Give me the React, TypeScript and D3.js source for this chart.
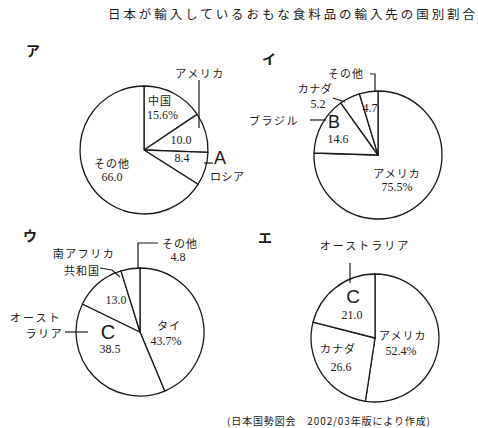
import React from 'react';
import * as d3 from 'd3';

// chart values
const titleText = '日本が輸入しているおもな食料品の輸入先の国別割合';
const sourceText = '(日本国勢図会　2002/03年版により作成)';
const panelLabels = ['ア', 'イ', 'ウ', 'エ'];

const namesA = ['中国', 'アメリカ', 'ロシア', 'その他'];
const valuesA = [15.6, 10.0, 8.4, 66.0];
const namesB = ['アメリカ', 'ブラジル', 'カナダ', 'その他'];
const valuesB = [75.5, 14.6, 5.2, 4.7];
const namesC = ['タイ', 'オーストラリア', '南アフリカ共和国', 'その他'];
const valuesC = [43.7, 38.5, 13.0, 4.8];
const namesD = ['アメリカ', 'カナダ', 'オーストラリア'];
const valuesD = [52.4, 26.6, 21.0];
const hiddenLetters = ['A', 'B', 'C'];

const W = 478;
const H = 428;
const R = 64;

const JP = '"Noto Sans CJK JP", sans-serif';
const NUM = '"Liberation Serif", serif';
const LAT = '"Liberation Sans", sans-serif';
const INK = '#1a1a1a';

const fmt = (v: number, i: number) => (i === 0 ? `${v.toFixed(1)}%` : v.toFixed(1));

type Lbl = { t: string; x: number; y: number; f?: string; s?: number; a?: string; ls?: number; w?: number };
type Seg = number[][];

const pie = d3.pie<number>().sort(null).value(d => d);
const arc = d3.arc<d3.PieArcDatum<number>>().innerRadius(0).outerRadius(R);

function Pie({ cx, cy, values, labels, lines }: { cx: number; cy: number; values: number[]; labels: Lbl[]; lines: Seg[] }) {
  const arcs = pie(values);
  const line = d3.line();
  return (
    <g transform={`translate(${cx},${cy})`}>
      {arcs.map((d, i) => (
        <path key={i} d={arc(d) || ''} fill="#fff" stroke={INK} strokeWidth={1.3} strokeLinejoin="round" />
      ))}
      {lines.map((p, i) => (
        <path key={i} d={line(p as [number, number][]) || ''} fill="none" stroke={INK} strokeWidth={1.2} />
      ))}
      {labels.map((l, i) => (
        <text
          key={i}
          x={l.x}
          y={l.y}
          fontFamily={l.f || JP}
          fontSize={l.s || 11}
          fontWeight={l.w || 400}
          textAnchor={l.a || 'middle'}
          dominantBaseline="central"
          letterSpacing={l.ls ?? (l.f ? 0 : 1.5)}
          fill={INK}
        >
          {l.t}
        </text>
      ))}
    </g>
  );
}

export default function App() {
  const n = (t: string, x: number, y: number, a = 'middle'): Lbl => ({ t, x, y, f: NUM, s: 12, a });
  const big = (t: string, x: number, y: number, s = 20): Lbl => ({ t, x, y, f: LAT, s });

  const labelsA: Lbl[] = [
    { t: namesA[0], x: 4, y: -50, a: 'start', ls: 1 },
    n(fmt(valuesA[0], 0), 3, -35, 'start'),
    n(fmt(valuesA[1], 1), 37, -10),
    n(fmt(valuesA[2], 2), 38, 8),
    { t: namesA[3], x: -32, y: 13, ls: 1 },
    n(fmt(valuesA[3], 3), -32, 27),
    { t: namesA[1], x: 56, y: -77 },
    big(hiddenLetters[0], 76, 8, 18),
    { t: namesA[2], x: 66, y: 26, a: 'start', ls: 0.5 },
  ];
  const linesA: Seg[] = [
    [[55, -70], [55, -22]],
    [[60, 13], [69, 13]],
  ];

  const labelsB: Lbl[] = [
    { t: namesB[3], x: -32, y: -82, ls: 1 },
    n(fmt(valuesB[3], 3), -8, -47),
    { t: namesB[2], x: -63, y: -67, ls: 0.5 },
    n(fmt(valuesB[2], 2), -60, -51),
    { t: namesB[1], x: -104, y: -35 },
    big(hiddenLetters[1], -44, -33, 18),
    n(fmt(valuesB[1], 1), -40, -16),
    { t: namesB[0], x: 19, y: 18, ls: 1 },
    n(fmt(valuesB[0], 0), 19, 32),
  ];
  const linesB: Seg[] = [
    [[-8, -81], [-3, -81], [-3, -63]],
    [[-45, -57], [-33, -53]],
    [[-68, -35], [-52, -35]],
  ];

  const labelsC: Lbl[] = [
    { t: namesC[3], x: 40, y: -89, ls: 1 },
    n(fmt(valuesC[3], 3), 38, -75),
    { t: namesC[2].slice(0, 5), x: -56, y: -79, ls: 1.5 },
    { t: namesC[2].slice(5), x: -58, y: -62, ls: 1 },
    n(fmt(valuesC[2], 2), -24, -32),
    { t: namesC[1].slice(0, 4), x: -130, y: -15, a: 'start', ls: 2 },
    { t: namesC[1].slice(4), x: -77, y: 1, a: 'end', ls: 1.5 },
    big(hiddenLetters[2], -32, 0, 20),
    n(fmt(valuesC[1], 1), -30, 17),
    { t: namesC[0], x: 29, y: -7, ls: 1 },
    n(fmt(valuesC[0], 0), 26, 9),
  ];
  const linesC: Seg[] = [
    [[18, -89], [-2, -89], [-2, -64]],
    [[-40, -64], [-28, -62], [-20, -55]],
    [[-75, 0], [-52, 0]],
  ];

  const labelsD: Lbl[] = [
    { t: namesD[2], x: -10, y: -93, ls: 2 },
    big(hiddenLetters[2], -22, -42, 19),
    n(fmt(valuesD[2], 2), -23, -23),
    { t: namesD[1], x: -37, y: 10, ls: 1 },
    n(fmt(valuesD[1], 1), -34, 29),
    { t: namesD[0], x: 4, y: -3, a: 'start', ls: 1 },
    n(fmt(valuesD[0], 0), 26, 13),
  ];
  const linesD: Seg[] = [[[-25, -75], [-25, -55]]];

  const panelPos = [
    [33, 50],
    [269, 58],
    [30, 235],
    [265, 237],
  ];

  return (
    <svg width={W} height={H} style={{ position: 'absolute', left: 0, top: 0, background: '#fff' }}>
      <rect width={W} height={H} fill="#fff" />
      <text x={108} y={13} fontFamily={JP} fontSize={12.5} fill={INK} dominantBaseline="central" textLength={367} lengthAdjust="spacing">
        {titleText}
      </text>
      {panelLabels.map((t, i) => (
        <text key={t} x={panelPos[i][0]} y={panelPos[i][1]} fontFamily={JP} fontSize={14} fontWeight={700} textAnchor="middle" dominantBaseline="central" fill={INK}>
          {t}
        </text>
      ))}
      <Pie cx={144} cy={150} values={valuesA} labels={labelsA} lines={linesA} />
      <Pie cx={378} cy={155} values={valuesB} labels={labelsB} lines={linesB} />
      <Pie cx={140} cy={332} values={valuesC} labels={labelsC} lines={linesC} />
      <Pie cx={375} cy={338} values={valuesD} labels={labelsD} lines={linesD} />
      <text x={227} y={420} fontFamily={JP} fontSize={10} fill={INK} dominantBaseline="central" textLength={203} lengthAdjust="spacing">
        {sourceText}
      </text>
    </svg>
  );
}
